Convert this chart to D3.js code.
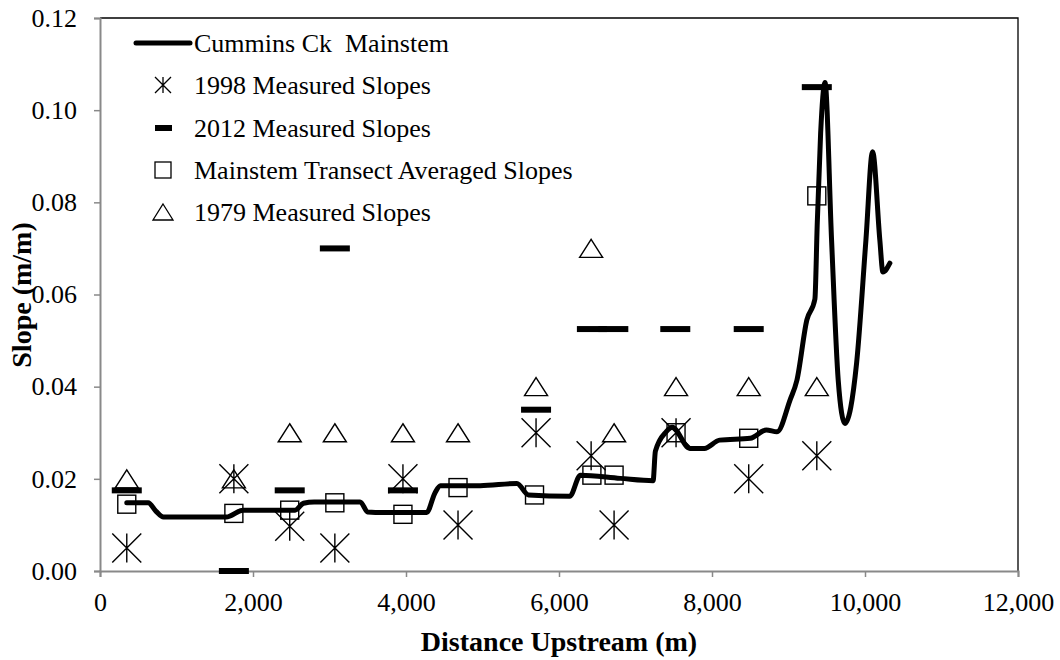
<!DOCTYPE html>
<html>
<head>
<meta charset="utf-8">
<script src="https://cdn.jsdelivr.net/npm/d3@7/dist/d3.min.js"></script>
<style>
  body { margin: 0; background: #fff; }
  svg text { font-family: 'Liberation Serif', 'Times New Roman', serif; fill: #000; }
</style>
</head>
<body>
<script>
// Cummins Ck mainstem slope profile (distance m, slope m/m)
var mainDist = [350, 630, 730, 830, 1650, 1870, 2550, 2660, 2800, 3400, 3500, 3600, 4270, 4380, 4450,
  4970, 5450, 5600, 6140, 6280, 6800, 7230, 7260, 7400, 7480, 7710, 7900, 8100, 8500, 8710, 8850,
  9020, 9110, 9240, 9345, 9375, 9420, 9477, 9563, 9650, 9737, 9890, 10012, 10099, 10194, 10234, 10325];
var mainSlope = [0.0148, 0.0148, 0.0130, 0.0117, 0.0117, 0.0132, 0.0132, 0.0147, 0.0150, 0.0150, 0.0128, 0.0127, 0.0127, 0.0170, 0.0185,
  0.0185, 0.0190, 0.0165, 0.0162, 0.0208, 0.0201, 0.0196, 0.0260, 0.0302, 0.0312, 0.0266, 0.0266, 0.0284, 0.0288, 0.0306, 0.0302,
  0.0371, 0.0414, 0.0545, 0.0590, 0.0750, 0.0950, 0.1060, 0.0718, 0.0414, 0.0320, 0.0451, 0.0718, 0.0910, 0.0718, 0.0649, 0.0668];

// 1998 measured slopes
var dist1998 = [350, 1750, 2480, 3070, 3960, 4680, 5700, 6420, 6720, 7530, 8480, 9370];
var slope1998 = [0.005, 0.020, 0.0097, 0.005, 0.020, 0.010, 0.030, 0.025, 0.010, 0.030, 0.020, 0.025];

// 2012 measured slopes
var dist2012 = [350, 1750, 2480, 3070, 3960, 5700, 6430, 6710, 7520, 8480, 9370];
var slope2012 = [0.0175, 0.0, 0.0175, 0.070, 0.0175, 0.035, 0.0525, 0.0525, 0.0525, 0.0525, 0.105];

// mainstem transect averaged slopes
var distAvg = [350, 1750, 2480, 3070, 3960, 4680, 5680, 6430, 6720, 7530, 8480, 9370];
var slopeAvg = [0.0145, 0.0125, 0.0132, 0.0148, 0.0123, 0.0181, 0.0165, 0.0208, 0.0208, 0.030, 0.0288, 0.0814];

// 1979 measured slopes
var dist1979 = [350, 1750, 2480, 3070, 3960, 4680, 5700, 6420, 6720, 7530, 8480, 9370];
var slope1979 = [0.020, 0.020, 0.030, 0.030, 0.030, 0.030, 0.040, 0.070, 0.030, 0.040, 0.040, 0.040];

var xTicks = [0, 2000, 4000, 6000, 8000, 10000, 12000];
var yTicks = [0, 0.02, 0.04, 0.06, 0.08, 0.10, 0.12];

var legendNames = ['Cummins Ck  Mainstem', '1998 Measured Slopes', '2012 Measured Slopes',
  'Mainstem Transect Averaged Slopes', '1979 Measured Slopes'];

var width = 1060, height = 660;
var L = 100, R = 1018, T = 18, B = 571;
var AXIS = '#898989';
var SERIF = "'Liberation Serif', 'Times New Roman', serif";

var svg = d3.select('body').append('svg').attr('width', width).attr('height', height);

var x = d3.scaleLinear().domain([0, 12000]).range([L, R]);
var y = d3.scaleLinear().domain([0, 0.12]).range([B, T]);

// plot frame: top and right black
svg.append('path')
  .attr('d', 'M' + L + ',' + T + 'H' + R + 'V' + B)
  .attr('fill', 'none').attr('stroke', '#000').attr('stroke-width', 1.3);

// axes
var gx = svg.append('g').attr('transform', 'translate(0,' + B + ')')
  .call(d3.axisBottom(x).tickValues(xTicks).tickFormat(d3.format(',')).tickSize(6).tickPadding(16));
var gy = svg.append('g').attr('transform', 'translate(' + L + ',0)')
  .call(d3.axisLeft(y).tickValues(yTicks).tickFormat(d3.format('.2f')).tickSize(6).tickPadding(17));
[gx, gy].forEach(function(g) {
  g.attr('font-family', SERIF).attr('font-size', 26);
  g.select('.domain').attr('stroke', AXIS).attr('stroke-width', 2);
  g.selectAll('.tick line').attr('stroke', AXIS).attr('stroke-width', 1.5);
  g.selectAll('.tick text').style('font-size', '26px').attr('fill', '#000').style('font-family', SERIF);
});

// axis titles
svg.append('text').attr('x', 559).attr('y', 651).attr('text-anchor', 'middle')
  .style('font-size', '28px').style('font-weight', 'bold').text('Distance Upstream (m)');
svg.append('text').attr('transform', 'translate(31,295) rotate(-90)').attr('text-anchor', 'middle')
  .style('font-size', '28px').style('font-weight', 'bold').text('Slope (m/m)');

// marker shapes
function asterisk(w, h) {
  return 'M' + (-w) + ',' + (-h) + 'L' + w + ',' + h + 'M' + (-w) + ',' + h + 'L' + w + ',' + (-h) +
    'M0,' + (-h) + 'L0,' + h;
}
function triangle(w, h) {
  return 'M0,' + (-h / 2) + 'L' + (w / 2) + ',' + (h / 2) + 'L' + (-w / 2) + ',' + (h / 2) + 'Z';
}

// mainstem line
var line = d3.line()
  .x(function(d, i) { return x(mainDist[i]); })
  .y(function(d, i) { return y(mainSlope[i]); })
  .curve(d3.curveMonotoneX);
svg.append('path').datum(mainDist).attr('d', line)
  .attr('fill', 'none').attr('stroke', '#000').attr('stroke-width', 5)
  .attr('stroke-linejoin', 'round').attr('stroke-linecap', 'round');

// 1979 triangles
svg.append('g').selectAll('path').data(dist1979).join('path')
  .attr('transform', function(d, i) { return 'translate(' + x(d) + ',' + y(slope1979[i]) + ')'; })
  .attr('d', triangle(23, 18)).attr('fill', 'none').attr('stroke', '#000').attr('stroke-width', 1.4);

// transect averaged squares
svg.append('g').selectAll('rect').data(distAvg).join('rect')
  .attr('x', function(d) { return x(d) - 9; })
  .attr('y', function(d, i) { return y(slopeAvg[i]) - 9; })
  .attr('width', 18).attr('height', 18)
  .attr('fill', 'none').attr('stroke', '#000').attr('stroke-width', 1.4);

// 2012 dashes
svg.append('g').selectAll('rect').data(dist2012).join('rect')
  .attr('x', function(d) { return x(d) - 15; })
  .attr('y', function(d, i) { return y(slope2012[i]) - 3; })
  .attr('width', 30).attr('height', 6).attr('fill', '#000');

// 1998 asterisks
svg.append('g').selectAll('path').data(dist1998).join('path')
  .attr('transform', function(d, i) { return 'translate(' + x(d) + ',' + y(slope1998[i]) + ')'; })
  .attr('d', asterisk(14.5, 14.5)).attr('fill', 'none').attr('stroke', '#000').attr('stroke-width', 1.4);

// legend
var legY = [43, 85, 128, 170, 212];
var leg = svg.append('g');
leg.append('line').attr('x1', 136).attr('x2', 190).attr('y1', legY[0]).attr('y2', legY[0])
  .attr('stroke', '#000').attr('stroke-width', 5).attr('stroke-linecap', 'round');
leg.append('path').attr('transform', 'translate(163,' + legY[1] + ')')
  .attr('d', asterisk(8, 8)).attr('fill', 'none').attr('stroke', '#000').attr('stroke-width', 1.3);
leg.append('rect').attr('x', 155).attr('y', legY[2] - 3).attr('width', 17).attr('height', 6).attr('fill', '#000');
leg.append('rect').attr('x', 155).attr('y', legY[3] - 8).attr('width', 16).attr('height', 16)
  .attr('fill', 'none').attr('stroke', '#000').attr('stroke-width', 1.3);
leg.append('path').attr('transform', 'translate(163,' + legY[4] + ')')
  .attr('d', triangle(20, 16)).attr('fill', 'none').attr('stroke', '#000').attr('stroke-width', 1.3);
leg.selectAll('text').data(legendNames).join('text')
  .attr('x', 194).attr('y', function(d, i) { return legY[i]; }).attr('dy', '0.33em')
  .style('font-size', '26px').style('white-space', 'pre').text(function(d) { return d; });
</script>
</body>
</html>
